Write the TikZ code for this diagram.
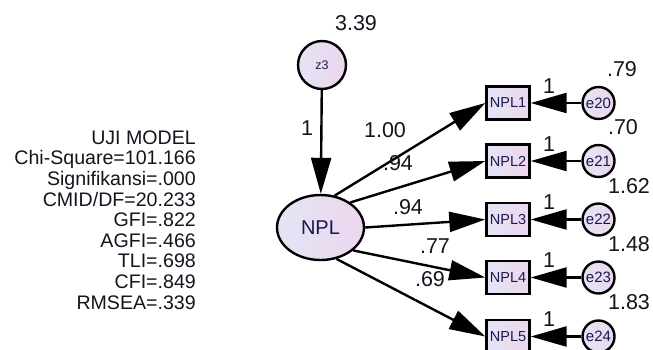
\documentclass[tikz,border=0pt]{standalone}
\usepackage{fontspec}
\setmainfont{Liberation Sans}
\usetikzlibrary{arrows.meta,shapes.geometric}
\definecolor{fillA}{RGB}{228,228,244}
\definecolor{fillB}{RGB}{236,214,238}
\definecolor{nodetxt}{RGB}{25,25,80}
\definecolor{labtxt}{RGB}{20,20,30}
\tikzset{
  base/.style={draw=black, line width=2.4pt, left color=fillA, right color=fillB, inner sep=0pt, text=nodetxt},
  latent/.style={base, ellipse, minimum width=87pt, minimum height=65pt, font=\fontsize{20}{22}\selectfont},
  distur/.style={base, circle, minimum size=48pt, font=\fontsize{12.5}{14}\selectfont},
  errc/.style={base, circle, minimum size=32pt, font=\fontsize{15}{16}\selectfont},
  obsbox/.style={base, rectangle, minimum width=43pt, minimum height=33pt, font=\fontsize{14.5}{16}\selectfont},
  lab/.style={text=labtxt, inner sep=0pt, font=\fontsize{21.5}{23}\selectfont},
  conn/.style={line width=2.4pt, -{Triangle[length=36pt,width=20pt]}},
}
\begin{document}
\begin{tikzpicture}[x=1pt,y=-1pt]
\useasboundingbox (0,0) rectangle (653,349);
% nodes
\node[distur] (z3) at (322,65) {z3};
\node[latent] (npl) at (320.5,227.5) {NPL};
\foreach \i/\y/\e in {1/103/20,2/161/21,3/219.5/22,4/277.5/23,5/336.5/24}{
  \node[obsbox] (n\i) at (508,\y) {NPL\i};
  \node[errc] (e\i) at (598.5,\y) {e\e};
  \draw[conn] (e\i) -- (n\i.east);
  \node[lab] (one\i) at (549,\y-17) {1};
}
% connectors
\draw[conn] (z3) -- (npl);
\draw[conn] (npl.66) -- (n1.west);
\draw[conn] (npl.40) -- (n2.west);
\draw[conn] (npl.0) -- (n3.west);
\draw[conn] (npl.-35) -- (n4.west);
\draw[conn] (npl.-63) -- (n5.west);
% labels
\node[lab] (vz) at (356,23) {3.39};
\node[lab] (lz) at (307,128) {1};
\node[lab] (l1) at (385,130) {1.00};
\node[lab] (l2) at (398,163) {.94};
\node[lab] (l3) at (408,207) {.94};
\node[lab] (l4) at (435,246) {.77};
\node[lab] (l5) at (430,279) {.69};
\node[lab] (v1) at (622,69) {.79};
\node[lab] (v2) at (623,127) {.70};
\node[lab] (v3) at (629,186) {1.62};
\node[lab] (v4) at (629,244) {1.48};
\node[lab] (v5) at (629,302) {1.83};
% fit summary
\node[anchor=east, align=right, inner sep=0pt, text=labtxt,
      font=\fontsize{19.6}{20.6}\selectfont] (fit) at (196,220)
  {UJI MODEL\\Chi-Square=101.166\\Signifikansi=.000\\CMID/DF=20.233\\GFI=.822\\AGFI=.466\\TLI=.698\\CFI=.849\\RMSEA=.339};
\end{tikzpicture}
\end{document}
